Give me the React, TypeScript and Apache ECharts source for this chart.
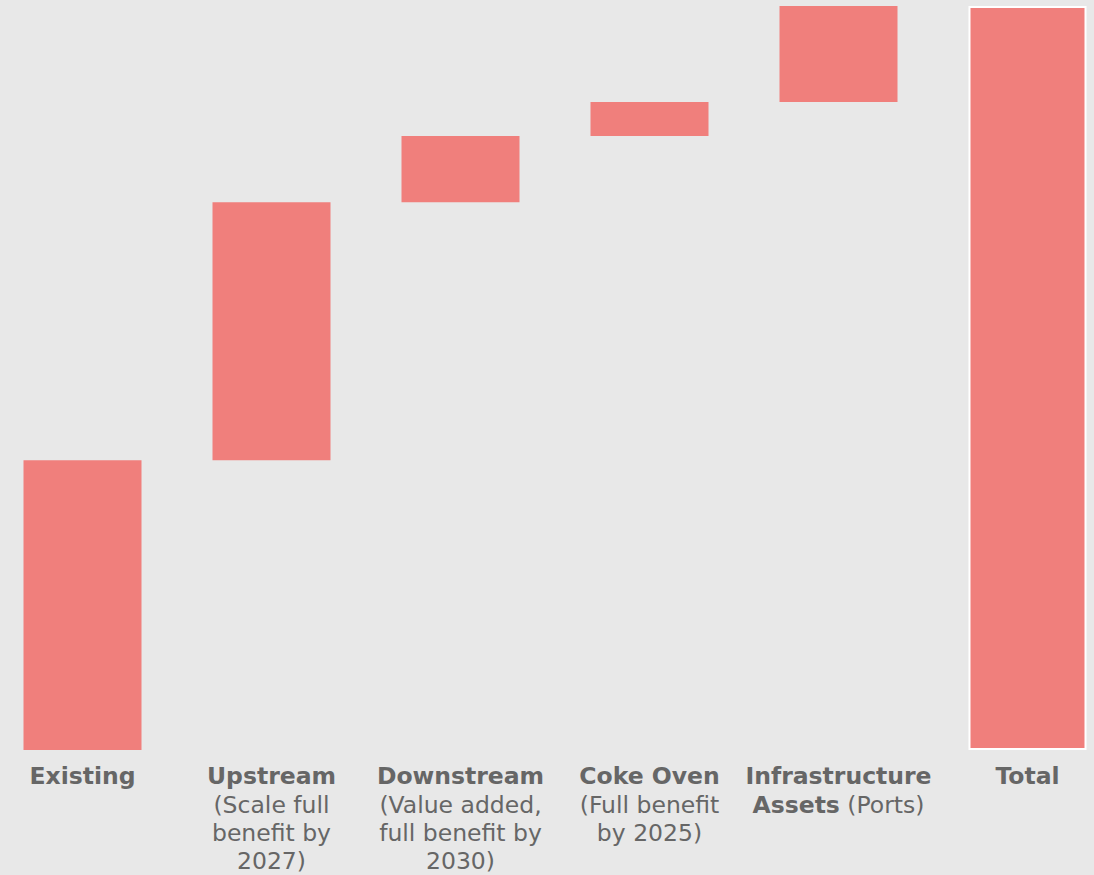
import React, { useEffect, useRef } from "react";
import * as echarts from "echarts";

const categories = ["Existing", "Upstream", "Downstream", "Coke Oven", "Infrastructure", "Total"];
const labelTexts = [
  "{b|Existing}",
  "{b|Upstream}\n{r|(Scale full}\n{r|benefit by}\n{r|2027)}",
  "{b|Downstream}\n{r|(Value added,}\n{r|full benefit by}\n{r|2030)}",
  "{b|Coke Oven}\n{r|(Full benefit}\n{r|by 2025)}",
  "{b|Infrastructure}\n{b|Assets}{r| (Ports)}",
  "{b|Total}",
];
const increments = [39.0, 34.7, 8.9, 4.6, 12.9];

export default function App() {
  const ref = useRef<HTMLDivElement>(null);
  useEffect(() => {
    if (!ref.current) return;
    const chart = echarts.init(ref.current, undefined, { renderer: "svg" });
    const total = increments.reduce((a, b) => a + b, 0);
    const bases: number[] = [];
    const values: any[] = [];
    let acc = 0;
    increments.forEach((v) => {
      bases.push(acc);
      values.push(v);
      acc += v;
    });
    bases.push(0);
    values.push({
      value: total,
      itemStyle: { borderColor: "#ffffff", borderWidth: 2 },
    });
    const labelMap: Record<string, string> = {};
    categories.forEach((c, i) => (labelMap[c] = labelTexts[i]));
    const richStyle = {
      b: { fontFamily: "DejaVu Sans", fontWeight: "bold", fontSize: 23.5, color: "#666666", lineHeight: 28.4 },
      r: { fontFamily: "DejaVu Sans", fontWeight: "normal", fontSize: 23.5, color: "#666666", lineHeight: 28.4 },
    };
    chart.setOption({
      animation: false,
      backgroundColor: "#e8e8e8",
      grid: { left: 0, right: 0, top: 6, bottom: 125, containLabel: false },
      xAxis: {
        type: "category",
        data: categories,
        axisLine: { show: false },
        axisTick: { show: false },
        splitLine: { show: false },
        axisLabel: {
          interval: 0,
          margin: 12,
          formatter: (v: string) => labelMap[v],
          rich: richStyle,
          align: "center",
        },
      },
      yAxis: {
        type: "value",
        min: 0,
        max: total,
        show: false,
        splitLine: { show: false },
      },
      series: [
        {
          type: "bar",
          stack: "w",
          data: bases,
          barWidth: 118,
          itemStyle: { color: "transparent" },
          silent: true,
        },
        {
          type: "bar",
          stack: "w",
          data: values,
          barWidth: 118,
          itemStyle: { color: "#f07f7c" },
        },
      ],
    });
    return () => chart.dispose();
  }, []);
  return (
    <div
      ref={ref}
      style={{ position: "fixed", left: -12.5, top: 0, width: 1134, height: 875 }}
    />
  );
}
